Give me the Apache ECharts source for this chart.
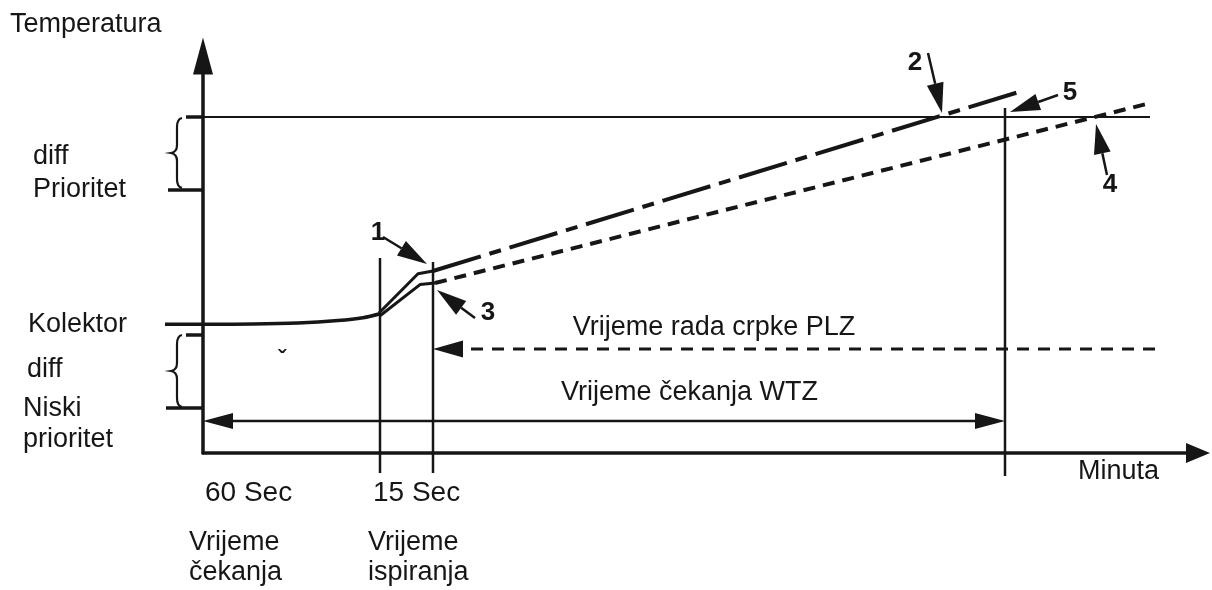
<!DOCTYPE html>
<html>
<head>
<meta charset="utf-8">
<title>Temperatura / Minuta</title>
<script src="https://cdn.jsdelivr.net/npm/echarts@6/dist/echarts.min.js"></script>
<style>
  html, body { margin: 0; padding: 0; background: #ffffff; }
  #chart { width: 1212px; height: 590px; }
</style>
</head>
<body>
<div id="chart"></div>
<script>
const INK = '#161616';

// Collector temperature: flat during the waiting time, rising while flushing
const kolektorCurve = [[0, 32.2], [5, 32.25], [9.5, 32.5], [13.5, 33.1], [16, 33.8], [17.7, 34.8]];
const flushRiseHigh = [[17.6, 35.0], [21.5, 44.8], [23, 45.5]];
const flushRiseLow = [[17.7, 34.3], [21.7, 42.1], [23.2, 42.5]];
// Projected rise after flushing
const trendHigh = [[23, 45.5], [81.9, 90.5]];
const trendLow = [[23.2, 42.5], [94.9, 87.6]];
// Priority threshold level
const priorityLine = [[0, 84], [94.7, 84]];
// Level ticks on the temperature axis: [xStart, y, xEnd, y]
const levelTicks = [[-1.7, 84, 0, 84], [-3.5, 65.75, 0, 65.75], [-3.8, 32.2, 0, 32.2], [-1.7, 29.5, 0, 29.5], [-3.7, 11.25, 0, 11.25]];
// Braces marking the "diff" bands: [x, yTop, yBottom]
const diffBraces = [[-2.6, 83.75, 66.25], [-2.6, 29.5, 11.5]];
// Time markers: end of waiting, end of flushing, end of WTZ
const timeMarkers = [[17.7, 48.75, 17.7, -5], [23, 47.75, 23, -5], [80.2, 86.25, 80.2, -5.75]];
// Duration arrows: WTZ (two heads), PLZ (dashed, one head)
const wtzArrow = [[0, 8, 80.2, 8]];
const plzArrow = [[95.2, 26, 23, 26]];
// Numbered pointers: [fromX, fromY, tipX, tipY]
const pointers = [[18, 54, 22.4, 47.25], [72.5, 100, 73.9, 85], [27.2, 33.75, 23.4, 40.75], [90.4, 69.5, 89.3, 82.25], [85.5, 89.5, 80.7, 85.25]];
const pointerNumbers = ['1', '2', '3', '4', '5'];
const pointerLabelAt = [[17.5, 55], [71.2, 97.5], [28.5, 35], [90.7, 67], [86.7, 90]];

// Texts
const axisTitles = ['Temperatura', 'Minuta'];
const levelLabels = ['diff', 'Prioritet', 'Kolektor', 'diff', 'Niski', 'prioritet'];
const timeLabels = ['60 Sec', '15 Sec'];
const phaseLabels = ['Vrijeme', 'čekanja', 'Vrijeme', 'ispiranja'];
const spanLabels = ['Vrijeme rada crpke PLZ', 'Vrijeme čekanja WTZ'];

const FONT = '"Liberation Sans", Arial, sans-serif';

function head(tip, from, len, wid) {
  const dx = tip[0] - from[0], dy = tip[1] - from[1];
  const d = Math.hypot(dx, dy) || 1;
  const ux = dx / d, uy = dy / d;
  const bx = tip[0] - ux * len, by = tip[1] - uy * len;
  return {
    base: [bx, by],
    el: {
      type: 'polygon',
      shape: { points: [[tip[0], tip[1]], [bx - uy * wid / 2, by + ux * wid / 2], [bx + uy * wid / 2, by - ux * wid / 2]] },
      style: { fill: INK }
    }
  };
}

function segmentSeries(name, data, width, dash) {
  return {
    type: 'custom', name, data, clip: false, silent: true,
    renderItem(params, api) {
      const a = api.coord([api.value(0), api.value(1)]);
      const b = api.coord([api.value(2), api.value(3)]);
      return {
        type: 'line',
        shape: { x1: a[0], y1: a[1], x2: b[0], y2: b[1] },
        style: { stroke: INK, lineWidth: width, lineDash: dash || null, lineCap: 'butt' }
      };
    }
  };
}

function arrowSeries(name, data, opts) {
  return {
    type: 'custom', name, data, clip: false, silent: true,
    renderItem(params, api) {
      const a = api.coord([api.value(0), api.value(1)]);
      const b = api.coord([api.value(2), api.value(3)]);
      const children = [];
      const hEnd = head(b, a, opts.len, opts.wid);
      children.push(hEnd.el);
      let start = a;
      if (opts.both) {
        const hStart = head(a, b, opts.len, opts.wid);
        children.push(hStart.el);
        start = hStart.base;
      }
      children.unshift({
        type: 'line',
        shape: { x1: start[0], y1: start[1], x2: hEnd.base[0], y2: hEnd.base[1] },
        style: { stroke: INK, lineWidth: opts.width, lineDash: opts.dash || null, lineCap: 'butt' }
      });
      return { type: 'group', children };
    }
  };
}

function lineSeries(name, data, width, type) {
  return {
    type: 'line', name, data, clip: false, silent: true,
    showSymbol: false, symbol: 'none',
    smooth: name === 'Kolektor' ? 0.35 : false,
    lineStyle: { color: INK, width, type: type || 'solid', cap: 'butt', join: 'round' }
  };
}

function text(str, x, y, size, opts) {
  opts = opts || {};
  return {
    type: 'text', x, y, silent: true,
    style: {
      text: str,
      font: (opts.bold ? 'bold ' : '') + size + 'px ' + FONT,
      fill: INK,
      textAlign: opts.align || 'left', align: opts.align || 'left',
      textVerticalAlign: 'middle', verticalAlign: 'middle'
    }
  };
}

const chart = echarts.init(document.getElementById('chart'), null, { renderer: 'canvas' });

const option = {
  animation: false,
  backgroundColor: '#ffffff',
  grid: { left: 203, top: 56, width: 995, height: 397 },
  xAxis: {
    type: 'value', min: 0, max: 99.5,
    axisLine: { show: true, onZero: false, symbol: ['none', 'triangle'], symbolSize: [20, 24], lineStyle: { color: INK, width: 3.5 } },
    axisTick: { show: false }, axisLabel: { show: false }, splitLine: { show: false }
  },
  yAxis: {
    type: 'value', min: 0, max: 99.25,
    axisLine: { show: true, onZero: false, symbol: ['none', 'triangle'], symbolSize: [20, 37], lineStyle: { color: INK, width: 3.5 } },
    axisTick: { show: false }, axisLabel: { show: false }, splitLine: { show: false }
  },
  series: [
    lineSeries('Prioritet', priorityLine, 2),
    segmentSeries('levels', levelTicks, 3.5),
    segmentSeries('markers', timeMarkers, 2.5),
    lineSeries('Kolektor', kolektorCurve, 3.5),
    lineSeries('rise1', flushRiseHigh, 3),
    lineSeries('rise3', flushRiseLow, 3),
    lineSeries('trend2', trendHigh, 4, [50, 9, 12, 9]),
    lineSeries('trend4', trendLow, 4, [12, 8]),
    arrowSeries('WTZ', wtzArrow, { len: 30, wid: 16, width: 2.5, both: true }),
    arrowSeries('PLZ', plzArrow, { len: 30, wid: 17, width: 3, dash: [12, 9] }),
    arrowSeries('pointers', pointers, { len: 30, wid: 17, width: 2.5 }),
    {
      type: 'custom', name: 'braces', data: diffBraces, clip: false, silent: true,
      renderItem(params, api) {
        const t = api.coord([api.value(0), api.value(1)]);
        const b = api.coord([api.value(0), api.value(2)]);
        const X = t[0], T = t[1], B = b[1], M = (T + B) / 2;
        const d = 'M' + (X + 5) + ',' + T +
          ' Q' + X + ',' + (T + 1) + ' ' + X + ',' + (T + 9) +
          ' L' + X + ',' + (M - 8) +
          ' Q' + X + ',' + (M - 1) + ' ' + (X - 6) + ',' + M +
          ' Q' + X + ',' + (M + 1) + ' ' + X + ',' + (M + 8) +
          ' L' + X + ',' + (B - 9) +
          ' Q' + X + ',' + (B - 1) + ' ' + (X + 5) + ',' + B;
        return { type: 'path', shape: { pathData: d }, style: { fill: null, stroke: INK, lineWidth: 2.2 } };
      }
    },
    {
      type: 'custom', name: 'pointerNumbers', data: pointerLabelAt, clip: false, silent: true,
      renderItem(params, api) {
        const p = api.coord([api.value(0), api.value(1)]);
        return {
          type: 'text', x: p[0], y: p[1],
          style: {
            text: pointerNumbers[params.dataIndex],
            font: 'bold 26px ' + FONT, fill: INK,
            textAlign: 'center', align: 'center', textVerticalAlign: 'middle', verticalAlign: 'middle'
          }
        };
      }
    }
  ],
  graphic: [
    text(axisTitles[0], 10, 25, 27),
    text(axisTitles[1], 1078, 472, 27),
    text(levelLabels[0], 33, 157, 27),
    text(levelLabels[1], 33, 190, 27),
    text(levelLabels[2], 28, 325, 27),
    text(levelLabels[3], 27, 370, 27),
    text(levelLabels[4], 23, 409, 27),
    text(levelLabels[5], 23, 440, 27),
    text(timeLabels[0], 205, 493, 28),
    text(timeLabels[1], 373, 493, 28),
    text(phaseLabels[0], 189, 543, 27),
    text(phaseLabels[1], 189, 573, 27),
    text(phaseLabels[2], 368, 543, 27),
    text(phaseLabels[3], 368, 573, 27),
    text(spanLabels[0], 714, 328, 27, { align: 'center' }),
    text(spanLabels[1], 561, 393, 27),
    text('ˇ', 282, 360, 24, { align: 'center', bold: true })
  ]
};

chart.setOption(option);
</script>
</body>
</html>
